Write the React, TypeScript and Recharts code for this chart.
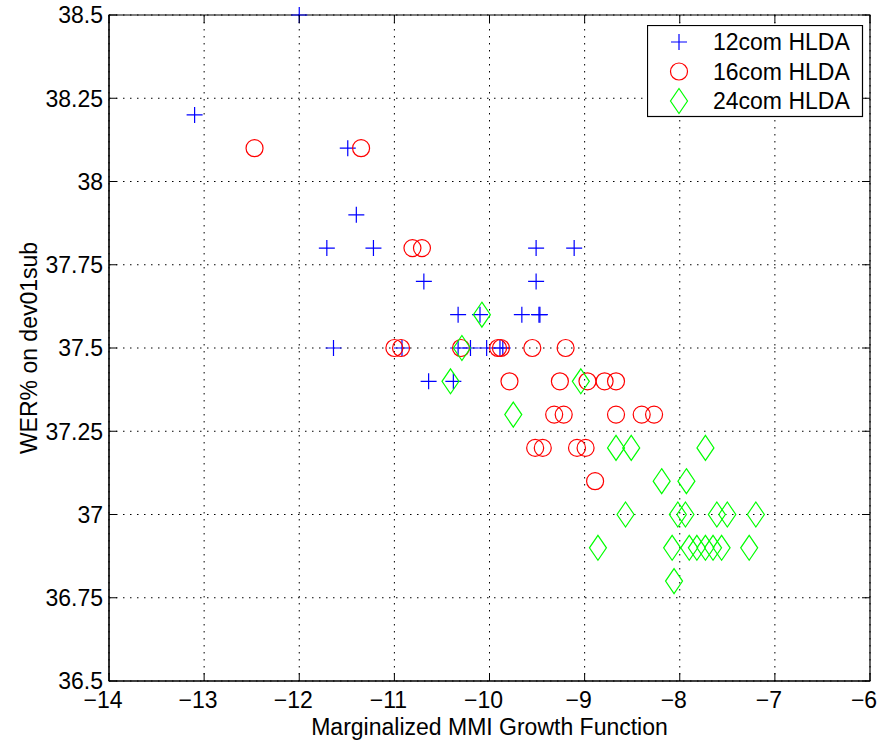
import { JSX } from "react";
import {
  ScatterChart,
  Scatter,
  XAxis,
  YAxis,
  CartesianGrid,
  ReferenceArea,
} from "recharts";

type Pt = { x: number; y: number };

const hlda12: Pt[] = [
  { x: -12.0, y: 38.5 },
  { x: -13.1, y: 38.2 },
  { x: -11.49, y: 38.1 },
  { x: -11.4, y: 37.9 },
  { x: -11.71, y: 37.8 },
  { x: -11.22, y: 37.8 },
  { x: -9.51, y: 37.8 },
  { x: -9.11, y: 37.8 },
  { x: -10.69, y: 37.7 },
  { x: -9.51, y: 37.7 },
  { x: -10.33, y: 37.6 },
  { x: -10.1, y: 37.6 },
  { x: -9.66, y: 37.6 },
  { x: -9.48, y: 37.6 },
  { x: -9.47, y: 37.6 },
  { x: -11.64, y: 37.5 },
  { x: -10.92, y: 37.5 },
  { x: -10.33, y: 37.5 },
  { x: -10.2, y: 37.5 },
  { x: -10.03, y: 37.5 },
  { x: -9.89, y: 37.5 },
  { x: -9.86, y: 37.5 },
  { x: -10.64, y: 37.4 },
  { x: -10.38, y: 37.4 },
];

const hlda16: Pt[] = [
  { x: -12.47, y: 38.1 },
  { x: -11.35, y: 38.1 },
  { x: -10.81, y: 37.8 },
  { x: -10.71, y: 37.8 },
  { x: -11.0, y: 37.5 },
  { x: -10.93, y: 37.5 },
  { x: -10.3, y: 37.5 },
  { x: -9.91, y: 37.5 },
  { x: -9.88, y: 37.5 },
  { x: -9.55, y: 37.5 },
  { x: -9.2, y: 37.5 },
  { x: -9.79, y: 37.4 },
  { x: -9.26, y: 37.4 },
  { x: -8.97, y: 37.4 },
  { x: -8.79, y: 37.4 },
  { x: -8.67, y: 37.4 },
  { x: -9.32, y: 37.3 },
  { x: -9.22, y: 37.3 },
  { x: -8.67, y: 37.3 },
  { x: -8.4, y: 37.3 },
  { x: -8.27, y: 37.3 },
  { x: -9.52, y: 37.2 },
  { x: -9.44, y: 37.2 },
  { x: -9.08, y: 37.2 },
  { x: -8.99, y: 37.2 },
  { x: -8.89, y: 37.1 },
];

const hlda24: Pt[] = [
  { x: -10.08, y: 37.6 },
  { x: -10.29, y: 37.5 },
  { x: -10.41, y: 37.4 },
  { x: -9.04, y: 37.4 },
  { x: -9.75, y: 37.3 },
  { x: -8.67, y: 37.2 },
  { x: -8.51, y: 37.2 },
  { x: -7.73, y: 37.2 },
  { x: -8.19, y: 37.1 },
  { x: -7.93, y: 37.1 },
  { x: -8.57, y: 37.0 },
  { x: -8.02, y: 37.0 },
  { x: -7.94, y: 37.0 },
  { x: -7.61, y: 37.0 },
  { x: -7.5, y: 37.0 },
  { x: -7.2, y: 37.0 },
  { x: -8.86, y: 36.9 },
  { x: -8.08, y: 36.9 },
  { x: -7.9, y: 36.9 },
  { x: -7.82, y: 36.9 },
  { x: -7.73, y: 36.9 },
  { x: -7.65, y: 36.9 },
  { x: -7.56, y: 36.9 },
  { x: -7.27, y: 36.9 },
  { x: -8.06, y: 36.8 },
];

const xTicks = [-14, -13, -12, -11, -10, -9, -8, -7, -6];
const yTicks = [36.5, 36.75, 37, 37.25, 37.5, 37.75, 38, 38.25, 38.5];

const FONT = "'Liberation Sans', Arial, Helvetica, sans-serif";
const FS = 23;
const PLOT_TOP = 15;
const PLOT_RIGHT = 870;
const TICK = 8;

const fmt = (v: number) => (v < 0 ? "\u2212" + Math.abs(v) : String(v));

function XTick(props: any): JSX.Element {
  const { x, y, payload } = props;
  return (
    <g>
      <line x1={x} x2={x} y1={y} y2={y - TICK} stroke="#000" />
      <line x1={x} x2={x} y1={PLOT_TOP} y2={PLOT_TOP + TICK} stroke="#000" />
      <text x={x - 6} y={y + 27} textAnchor="middle" fontFamily={FONT} fontSize={FS} fill="#000">
        {fmt(payload.value)}
      </text>
    </g>
  );
}

function YTick(props: any): JSX.Element {
  const { x, y, payload } = props;
  return (
    <g>
      <line x1={x} x2={x + TICK} y1={y} y2={y} stroke="#000" />
      <line x1={PLOT_RIGHT} x2={PLOT_RIGHT - TICK} y1={y} y2={y} stroke="#000" />
      <text x={x - 6} y={y} dy="0.36em" textAnchor="end" fontFamily={FONT} fontSize={FS} fill="#000">
        {String(payload.value)}
      </text>
    </g>
  );
}

function Plus({ cx, cy }: any): JSX.Element {
  return (
    <path d={`M${cx - 8},${cy}H${cx + 8}M${cx},${cy - 8}V${cy + 8}`} stroke="#0000ff" strokeWidth={1.2} fill="none" />
  );
}

function Circle({ cx, cy }: any): JSX.Element {
  return <circle cx={cx} cy={cy} r={8.5} stroke="#ff0000" strokeWidth={1.2} fill="none" />;
}

function Diamond({ cx, cy }: any): JSX.Element {
  return (
    <path
      d={`M${cx},${cy - 12.5}L${cx + 8.5},${cy}L${cx},${cy + 12.5}L${cx - 8.5},${cy}Z`}
      stroke="#00ff00"
      strokeWidth={1.2}
      fill="none"
    />
  );
}

const legendItems = [
  { label: "12com HLDA", Shape: Plus },
  { label: "16com HLDA", Shape: Circle },
  { label: "24com HLDA", Shape: Diamond },
];

function LegendBox(): JSX.Element {
  return (
    <svg
      width={217}
      height={93}
      style={{ position: "absolute", left: 647, top: 25, display: "block" }}
    >
      <rect x={0.5} y={0.5} width={215} height={91} fill="#fff" stroke="#000" strokeWidth={1.2} />
      {legendItems.map((it, i) => (
        <g key={it.label}>
          <it.Shape cx={32} cy={17 + i * 29.5} />
          <text x={66} y={17 + i * 29.5} dy="0.36em" fontFamily={FONT} fontSize={FS} fill="#000">
            {it.label}
          </text>
        </g>
      ))}
    </svg>
  );
}

export default function App(): JSX.Element {
  return (
    <div style={{ position: "absolute", left: 0, top: 0, width: 882, height: 744, background: "#fff" }}>
      <ScatterChart width={882} height={744} margin={{ top: PLOT_TOP, right: 12, bottom: 0, left: 0 }}>
        <CartesianGrid stroke="#000" strokeDasharray="1.5 5.5" />
        <XAxis
          type="number"
          dataKey="x"
          domain={[-14, -6]}
          ticks={xTicks}
          interval={0}
          height={63}
          tickSize={0}
          tickMargin={0}
          tickLine={false}
          axisLine={{ stroke: "#000" }}
          tick={<XTick />}
          label={{
            value: "Marginalized MMI Growth Function",
            position: "insideBottom",
            offset: 9,
            style: { fontFamily: FONT, fontSize: FS, fill: "#000" },
          }}
        />
        <YAxis
          type="number"
          dataKey="y"
          domain={[36.5, 38.5]}
          ticks={yTicks}
          interval={0}
          width={109}
          tickSize={0}
          tickMargin={0}
          tickLine={false}
          axisLine={{ stroke: "#000" }}
          tick={<YTick />}
          label={{
            value: "WER% on dev01sub",
            angle: -90,
            position: "insideLeft",
            offset: 29,
            style: { fontFamily: FONT, fontSize: FS, fill: "#000", textAnchor: "middle" },
          }}
        />
        <ReferenceArea x1={-14} x2={-6} y1={36.5} y2={38.5} fill="none" stroke="#000" strokeWidth={1.2} ifOverflow="visible" />
        <Scatter name="12com HLDA" data={hlda12} shape={<Plus />} isAnimationActive={false} />
        <Scatter name="16com HLDA" data={hlda16} shape={<Circle />} isAnimationActive={false} />
        <Scatter name="24com HLDA" data={hlda24} shape={<Diamond />} isAnimationActive={false} />
      </ScatterChart>
      <LegendBox />
    </div>
  );
}
